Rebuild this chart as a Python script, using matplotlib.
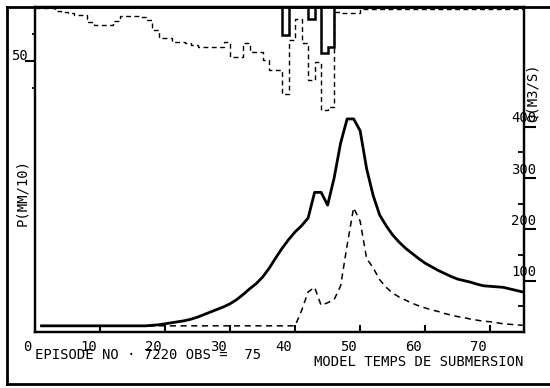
import numpy as np
import matplotlib
matplotlib.use("Agg")
import matplotlib.pyplot as plt
from matplotlib.lines import Line2D

# ---------------- data ----------------
hours_q = list(range(1, 76))
q_solid = [12] * 17 + [13, 14, 16, 18, 20, 22, 25, 29, 34, 39, 44, 49, 55, 63, 73, 84, 94,
                       107, 124, 144, 163, 180, 195, 207, 222, 272, 272, 247, 300, 368, 415,
                       415, 392, 318, 266, 228, 207, 189, 175, 163, 153, 143, 134, 127, 120,
                       114, 108, 103, 100, 97, 93, 90, 89, 88, 87, 84, 81, 78]
q_dashed = [12] * 40 + [42, 78, 87, 52, 57, 63, 90, 169, 242, 216, 143, 125, 102, 87, 76,
                        68, 62, 56, 51, 47, 43, 40, 36, 33, 30, 28, 25, 23, 21, 20, 18, 16,
                        15, 14, 13]

p_edges = list(range(0, 77))
p_dashed = [0.5, 0.5, 1, 4, 5, 6, 7, 7, 14, 17, 17, 17, 13, 8, 8, 8, 9, 12, 21, 29, 29, 32,
            32, 33, 35, 37, 37, 37, 37, 32, 46, 46, 33, 42, 42, 49, 58, 58, 81, 31, 11, 33,
            68, 51, 95, 93, 5, 6, 6, 6] + [1.5] * 26
p_solid = [0] * 76
p_solid[38] = 26
p_solid[42] = 11
p_solid[44] = 43
p_solid[45] = 37

x_ticks = [0, 10, 20, 30, 40, 50, 60, 70]
x_tick_labels = ["0", "10", "20", "30", "40", "50", "60", "70"]
q_major = [100, 200, 300, 400]
q_major_labels = ["100", "200", "300", "400"]
q_minor = [50, 150, 250, 350]
p_major = [50]
p_major_labels = ["50"]
p_minor = [25, 75]

# ---------------- figure ----------------
W, H = 550, 388
fig = plt.figure(figsize=(W / 100, H / 100), dpi=100)
FONT = "DejaVu Sans Mono"
FS = 10

def fx(px):
    return px / W

def fy(py):
    return 1 - py / H

ax = fig.add_axes([fx(35), fy(332), fx(524) - fx(35), fy(7) - fy(332)])
ax2 = ax.twinx()

ax.plot(hours_q, q_solid, color="black", lw=2.0, solid_joinstyle="round")
ax.plot(hours_q, q_dashed, color="black", lw=1.1, dashes=(4, 3))
ax.set_ylim(0, 633)

ax2.stairs(p_dashed, p_edges, baseline=None, color="black", lw=1.0,
           linestyle=(0, (3.5, 2.5)))
ax2.stairs(p_solid, p_edges, baseline=0, color="black", lw=1.8)
ax2.set_ylim(301, 0)
ax.set_xlim(0, 75.2)

for a in (ax, ax2):
    for s in a.spines.values():
        s.set_linewidth(1.6)

# x ticks
ax.set_xticks(x_ticks)
ax.tick_params(axis="x", direction="in", length=5, width=1.5, labelbottom=False)

# Q axis ticks on the right
ax.yaxis.set_ticks_position("right")
ax.set_yticks(q_major)
ax.set_yticks(q_minor, minor=True)
ax.tick_params(axis="y", which="major", direction="out", length=8.5, width=1.5,
               labelright=False, labelleft=False)
ax.tick_params(axis="y", which="minor", direction="in", length=4.5, width=1.3,
               labelright=False, labelleft=False)

# P axis ticks on the left
ax2.yaxis.set_ticks_position("left")
ax2.set_yticks(p_major)
ax2.set_yticks(p_minor, minor=True)
ax2.tick_params(axis="y", which="major", direction="out", length=7, width=1.5,
                labelleft=False, labelright=False)
ax2.tick_params(axis="y", which="minor", direction="out", length=2.5, width=1.3,
                labelleft=False, labelright=False)

# tick labels (offsets in points; 1 px = 0.72 pt)
for t, lbl in zip(x_ticks, x_tick_labels):
    ax.annotate(lbl, xy=(t, 0), xycoords=("data", "axes fraction"),
                xytext=(-2.2, -13.5), textcoords="offset points",
                ha="right", va="baseline", fontsize=FS, family=FONT)
for q, lbl in zip(q_major, q_major_labels):
    ax.annotate(lbl, xy=(1, q), xycoords=("axes fraction", "data"),
                xytext=(0, 3), textcoords="offset points",
                ha="center", va="baseline", fontsize=FS, family=FONT)
for p, lbl in zip(p_major, p_major_labels):
    ax2.annotate(lbl, xy=(0, p), xycoords=("axes fraction", "data"),
                 xytext=(-5, 1), textcoords="offset points",
                 ha="right", va="baseline", fontsize=FS, family=FONT)

fig.text(fx(22), fy(193), "P(MM/10)", rotation=90, ha="center", va="center",
         fontsize=FS, family=FONT)
fig.text(fx(533), fy(93), "Q(M3/S)", rotation=90, ha="center", va="center",
         fontsize=FS, family=FONT)
fig.text(fx(35), fy(359), "EPISODE NO · 7220 OBS =  75", ha="left", va="baseline",
         fontsize=FS, family=FONT)
fig.text(fx(523), fy(366), "MODEL TEMPS DE SUBMERSION", ha="right", va="baseline",
         fontsize=FS, family=FONT)

# outer frame
fig.add_artist(Line2D([fx(7), fx(7)], [fy(384), fy(7)], transform=fig.transFigure,
                      color="black", lw=2))
fig.add_artist(Line2D([fx(7), 1], [fy(384), fy(384)], transform=fig.transFigure,
                      color="black", lw=2))
fig.add_artist(Line2D([fx(7), 1], [fy(7), fy(7)], transform=fig.transFigure,
                      color="black", lw=2))

fig.savefig("out.png", dpi=100)
